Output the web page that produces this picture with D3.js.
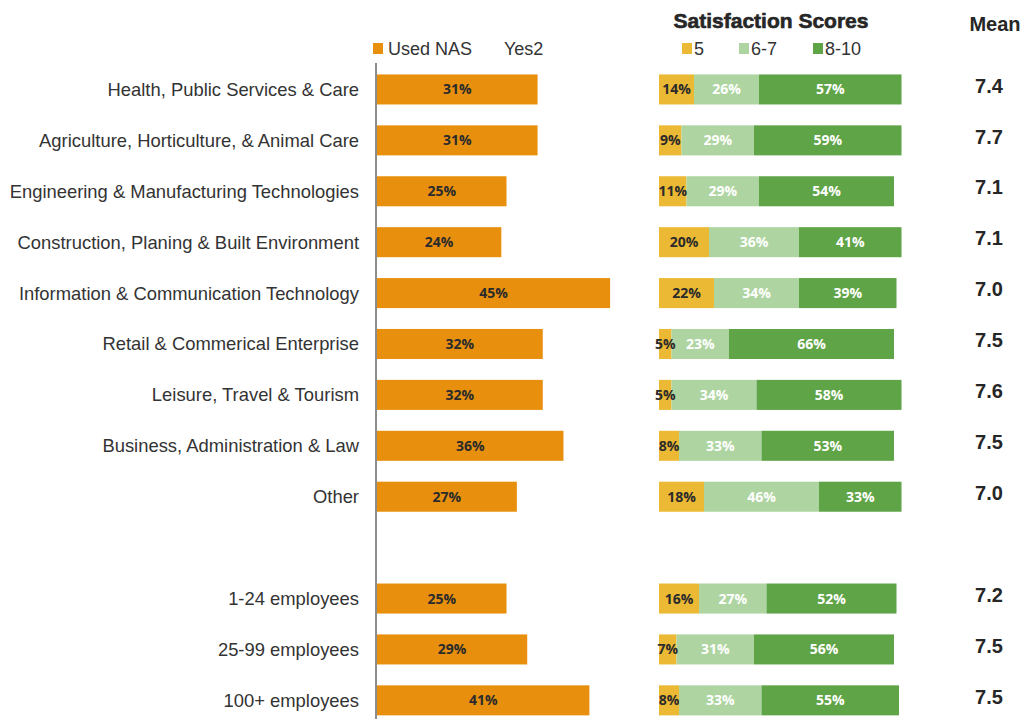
<!DOCTYPE html>
<html>
<head>
<meta charset="utf-8">
<script src="https://cdn.jsdelivr.net/npm/d3@7"></script>
<style>
  html, body { margin: 0; padding: 0; background: #fff; }
  svg { display: block; }
</style>
</head>
<body>
<svg id="chart" width="1026" height="719"></svg>
<script>
// Categories (an empty string marks the spacer row between sectors and company size)
const categories = [
  "Health, Public Services & Care",
  "Agriculture, Horticulture, & Animal Care",
  "Engineering & Manufacturing Technologies",
  "Construction, Planing & Built Environment",
  "Information & Communication Technology",
  "Retail & Commerical Enterprise",
  "Leisure, Travel & Tourism",
  "Business, Administration & Law",
  "Other",
  "",
  "1-24 employees",
  "25-99 employees",
  "100+ employees"
];

// Share that used NAS (%)
const usedNAS = [31, 31, 25, 24, 45, 32, 32, 36, 27, null, 25, 29, 41];

// Satisfaction score bands (%)
const score5    = [14, 9, 11, 20, 22, 5, 5, 8, 18, null, 16, 7, 8];
const score6to7 = [26, 29, 29, 36, 34, 23, 34, 33, 46, null, 27, 31, 33];
const score8to10= [57, 59, 54, 41, 39, 66, 58, 53, 33, null, 52, 56, 55];

// Mean satisfaction score
const meanScore = [7.4, 7.7, 7.1, 7.1, 7.0, 7.5, 7.6, 7.5, 7.0, null, 7.2, 7.5, 7.5];

const bandNames = ["5", "6-7", "8-10"];
const bandColors = ["#EBB933", "#AED5A1", "#5FA447"];
const bandText = ["#2b2b2b", "#ffffff", "#ffffff"];
const orange = "#E8900E";

const svg = d3.select("#chart");

const y = d3.scaleBand()
  .domain(d3.range(categories.length))
  .range([64, 725.8])
  .paddingInner(0.41)
  .paddingOuter(0.205);

const xLeft = d3.scaleLinear().domain([0, 100]).range([377, 895]);
const xRight = d3.scaleLinear().domain([0, 100]).range([659, 909]);

const rows = categories.map((c, i) => ({
  i, c, nas: usedNAS[i], bands: [score5[i], score6to7[i], score8to10[i]], mean: meanScore[i]
}));
const dataRows = rows.filter(d => d.nas !== null);

// Category labels
svg.append("g").selectAll("text")
  .data(dataRows).join("text")
  .attr("x", 359)
  .attr("y", d => y(d.i) + y.bandwidth() / 2)
  .attr("dy", "0.35em")
  .attr("text-anchor", "end")
  .attr("font-family", "Liberation Sans, Arial, sans-serif")
  .attr("font-size", 18.4)
  .attr("fill", "#333")
  .text(d => d.c);

// Used NAS bars
const left = svg.append("g");
left.selectAll("rect")
  .data(dataRows).join("rect")
  .attr("x", xLeft(0))
  .attr("y", d => y(d.i))
  .attr("width", d => xLeft(d.nas) - xLeft(0))
  .attr("height", y.bandwidth())
  .attr("fill", orange);
left.selectAll("text")
  .data(dataRows).join("text")
  .attr("x", d => (xLeft(0) + xLeft(d.nas)) / 2)
  .attr("y", d => y(d.i) + y.bandwidth() / 2)
  .attr("dy", "0.36em")
  .attr("text-anchor", "middle")
  .attr("font-family", "Open Sans, sans-serif")
  .attr("font-weight", "bold")
  .attr("font-size", 14)
  .attr("fill", "#2b2b2b")
  .text(d => d.nas + "%");

// Vertical axis line for the NAS bars
svg.append("line")
  .attr("x1", 376).attr("x2", 376)
  .attr("y1", 63).attr("y2", 719)
  .attr("stroke", "#8c8c8c")
  .attr("stroke-width", 2);

// Stacked satisfaction bars
const right = svg.append("g");
dataRows.forEach(d => {
  let acc = 0;
  d.bands.forEach((v, k) => {
    const x0 = xRight(acc), x1 = xRight(acc + v);
    right.append("rect")
      .attr("x", x0).attr("y", y(d.i))
      .attr("width", x1 - x0).attr("height", y.bandwidth())
      .attr("fill", bandColors[k]);
    acc += v;
  });
  acc = 0;
  d.bands.forEach((v, k) => {
    const x0 = xRight(acc), x1 = xRight(acc + v);
    right.append("text")
      .attr("x", (x0 + x1) / 2)
      .attr("y", y(d.i) + y.bandwidth() / 2)
      .attr("dy", "0.36em")
      .attr("text-anchor", "middle")
      .attr("font-family", "Open Sans, sans-serif")
      .attr("font-weight", "bold")
      .attr("font-size", 14)
      .attr("fill", bandText[k])
      .text(v + "%");
    acc += v;
  });
});

// Mean column
svg.append("g").selectAll("text")
  .data(dataRows).join("text")
  .attr("x", 989)
  .attr("y", d => y(d.i) + y.bandwidth() / 2 - 4)
  .attr("dy", "0.36em")
  .attr("text-anchor", "middle")
  .attr("font-family", "Liberation Sans, Arial, sans-serif")
  .attr("font-weight", "bold")
  .attr("font-size", 20)
  .attr("fill", "#262626")
  .text(d => d.mean.toFixed(1));

svg.append("text")
  .attr("x", 995).attr("y", 31)
  .attr("text-anchor", "middle")
  .attr("font-family", "Liberation Sans, Arial, sans-serif")
  .attr("font-weight", "bold")
  .attr("font-size", 20)
  .attr("fill", "#262626")
  .text("Mean");

// Title for the satisfaction block
svg.append("text")
  .attr("x", 771).attr("y", 28)
  .attr("text-anchor", "middle")
  .attr("font-family", "Liberation Sans, Arial, sans-serif")
  .attr("font-weight", "bold")
  .attr("font-size", 21)
  .attr("fill", "#262626")
  .attr("stroke", "#262626")
  .attr("stroke-width", 0.6)
  .text("Satisfaction Scores");

// Legends
const legendFont = "Liberation Sans, Arial, sans-serif";
svg.append("rect").attr("x", 373).attr("y", 43).attr("width", 10).attr("height", 11).attr("fill", orange);
svg.append("text").attr("x", 388).attr("y", 55)
  .attr("font-family", legendFont).attr("font-size", 18).attr("fill", "#333").text("Used NAS");
svg.append("text").attr("x", 504).attr("y", 55)
  .attr("font-family", legendFont).attr("font-size", 18).attr("fill", "#333").text("Yes2");

const legendX = [682, 739, 813];
bandNames.forEach((n, k) => {
  svg.append("rect").attr("x", legendX[k]).attr("y", 43).attr("width", 10).attr("height", 11).attr("fill", bandColors[k]);
  svg.append("text").attr("x", legendX[k] + 12).attr("y", 55)
    .attr("font-family", legendFont).attr("font-size", 18).attr("fill", "#333").text(n);
});
</script>
</body>
</html>
